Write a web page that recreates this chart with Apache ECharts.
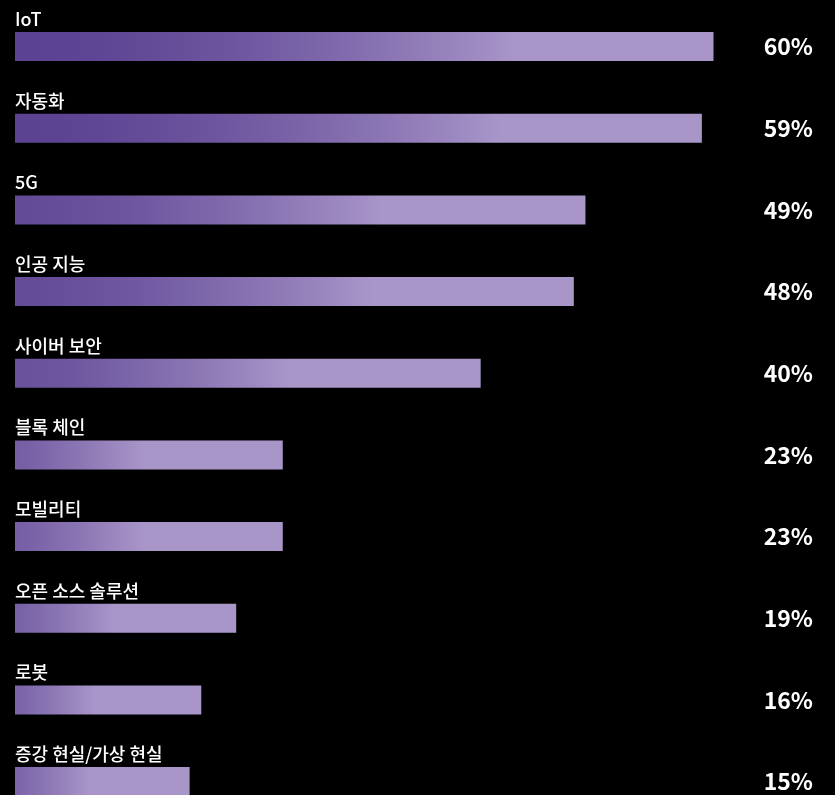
<!DOCTYPE html>
<html>
<head>
<meta charset="utf-8">
<script src="https://cdn.jsdelivr.net/npm/echarts@6/dist/echarts.min.js"></script>
<style>
  html, body { margin: 0; padding: 0; background: #000; overflow: hidden; }
  #chart { width: 835px; height: 830px; }
</style>
</head>
<body>
<div id="chart"></div>
<script>
// Technology adoption shares (%)
const categories = ['IoT', '자동화', '5G', '인공 지능', '사이버 보안', '블록 체인', '모빌리티', '오픈 소스 솔루션', '로봇', '증강 현실/가상 현실'];
const values = [60, 59, 49, 48, 40, 23, 23, 19, 16, 15];

const DARK = [91, 66, 146];
const LIGHT = [169, 150, 201];
const FONT = '"Noto Sans CJK KR", "Noto Sans", sans-serif';

function mix(t) {
  return 'rgb(' + DARK.map((c, i) => Math.round(c + (LIGHT[i] - c) * t)).join(',') + ')';
}

// Each bar eases from deep violet to lavender; shorter bars start lighter
// and reach the lavender tone earlier along their length.
function barGradient(v) {
  const k = Math.max(0, Math.min(1, (60 - v) / 45));
  const t0 = 0.4 * k;
  const f = 0.72 - 0.29 * k;
  const ease = 1.7 - 0.6 * k;
  const stops = [];
  for (let i = 0; i <= 12; i++) {
    const p = i / 12;
    stops.push({ offset: p * f, color: mix(t0 + (1 - t0) * Math.pow(p, ease)) });
  }
  stops.push({ offset: 1, color: mix(1) });
  return new echarts.graphic.LinearGradient(0, 0, 1, 0, stops);
}

const chart = echarts.init(document.getElementById('chart'));
chart.setOption({
  backgroundColor: '#000',
  animation: false,
  grid: { left: 15, top: 5.7, width: 702, height: 816.7, containLabel: false },
  xAxis: {
    type: 'value', min: 0, max: 60.3,
    show: false
  },
  yAxis: [
    {
      type: 'category', data: categories, inverse: true,
      axisLine: { show: false }, axisTick: { show: false },
      axisLabel: { show: false }
    },
    {
      type: 'category', data: categories, inverse: true,
      position: 'right', offset: 96,
      axisLine: { show: false }, axisTick: { show: false },
      axisLabel: {
        margin: 0, align: 'right',
        color: '#fff', fontFamily: FONT, fontWeight: 'bold', fontSize: 23,
        formatter: (v, i) => values[i] + '%'
      }
    }
  ],
  series: [{
    type: 'bar',
    yAxisIndex: 0,
    barWidth: 29,
    data: values.map(v => ({ value: v, itemStyle: { color: barGradient(v) } })),
    label: {
      show: true,
      position: [0, -4],
      align: 'left',
      verticalAlign: 'bottom',
      formatter: '{b}',
      color: '#fff',
      fontFamily: FONT,
      fontWeight: 500,
      fontSize: 18
    }
  }]
});
</script>
</body>
</html>
